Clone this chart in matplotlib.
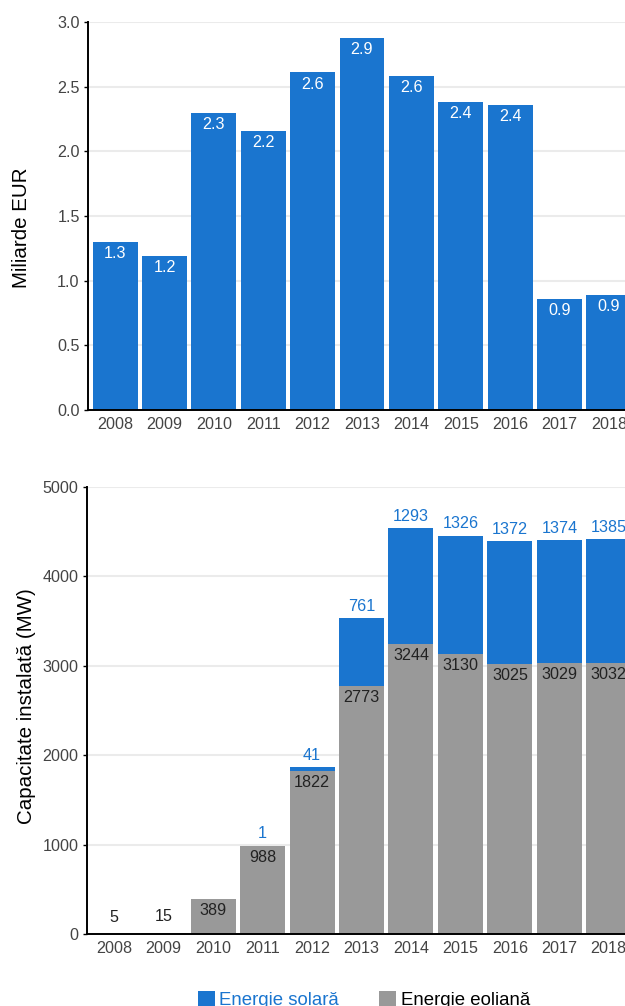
import numpy as np
import matplotlib
matplotlib.use('Agg')
import matplotlib.pyplot as plt
from matplotlib.patches import Patch

plt.rcParams['font.family'] = ['Liberation Sans', 'DejaVu Sans']

# Data
years = ['2008', '2009', '2010', '2011', '2012', '2013', '2014', '2015', '2016', '2017', '2018']
investments = [1.30, 1.19, 2.30, 2.16, 2.61, 2.88, 2.58, 2.38, 2.36, 0.86, 0.89]
wind_mw = [5, 15, 389, 988, 1822, 2773, 3244, 3130, 3025, 3029, 3032]
solar_mw = [0, 0, 0, 1, 41, 761, 1293, 1326, 1372, 1374, 1385]

BLUE = '#1a75cf'
GREY = '#999999'
GRID = '#ebebeb'
TICK = '#444444'

fig = plt.figure(figsize=(6.25, 10.06), dpi=100)
W, H = 625, 1006

def px_axes(left, top, right, bottom):
    return fig.add_axes([left / W, 1 - bottom / H, (right - left) / W, (bottom - top) / H])

def style_axes(ax):
    for s in ['top', 'right']:
        ax.spines[s].set_visible(False)
    for s in ['left', 'bottom']:
        ax.spines[s].set_linewidth(1.4)
        ax.spines[s].set_color('black')
    ax.set_axisbelow(True)
    ax.yaxis.grid(True, color=GRID, linewidth=1.5)
    ax.tick_params(axis='y', length=3, width=1, pad=3, labelsize=11.6, labelcolor=TICK)
    ax.tick_params(axis='x', length=0, pad=5, labelsize=11.6, labelcolor=TICK)

x = np.arange(len(years))
width = 0.91

# Top chart: investments
ax1 = px_axes(88, 22, 636, 410)
bars = ax1.bar(x, investments, width=width, color=BLUE)
ax1.set_xlim(-0.55, len(years) - 0.45)
ax1.set_ylim(0, 3.0)
ax1.set_yticks(np.arange(0, 3.01, 0.5))
ax1.set_yticklabels([f'{v:.1f}' for v in np.arange(0, 3.01, 0.5)])
ax1.set_xticks(x)
ax1.set_xticklabels(years)
style_axes(ax1)
for b, v in zip(bars, investments):
    ax1.annotate(f'{v:.1f}', (b.get_x() + b.get_width() / 2, v), xytext=(0, -8.4),
                 textcoords='offset points', ha='center', va='center',
                 color='white', fontsize=11.6)
ax1.set_ylabel('Miliarde EUR', fontsize=14.8, color='black')
ax1.yaxis.label.set_va('center')
ax1.yaxis.set_label_coords(-0.121, 0.47)

# Bottom chart: installed capacity
ax2 = px_axes(87, 487, 636, 934)
wb = ax2.bar(x, wind_mw, width=width, color=GREY)
sb = ax2.bar(x, solar_mw, width=width, bottom=wind_mw, color=BLUE)
ax2.set_xlim(-0.55, len(years) - 0.45)
ax2.set_ylim(0, 5000)
ax2.set_yticks(np.arange(0, 5001, 1000))
ax2.set_xticks(x)
ax2.set_xticklabels(years)
style_axes(ax2)
for i, (w, s) in enumerate(zip(wind_mw, solar_mw)):
    if w < 200:
        ax2.annotate(str(w), (x[i], w), xytext=(0, 11.5), textcoords='offset points',
                     ha='center', va='center', color='#222222', fontsize=11.6)
    else:
        ax2.annotate(str(w), (x[i], w), xytext=(0, -8.4), textcoords='offset points',
                     ha='center', va='center', color='#222222', fontsize=11.6)
    if s > 0:
        ax2.annotate(str(s), (x[i], w + s), xytext=(0, 8.5), textcoords='offset points',
                     ha='center', va='center', color=BLUE, fontsize=11.6)
ax2.set_ylabel('Capacitate instalată (MW)', fontsize=14.8, color='black')
ax2.yaxis.label.set_va('center')
ax2.yaxis.set_label_coords(-0.11, 0.51)

handles = [Patch(facecolor=BLUE, edgecolor='none'), Patch(facecolor=GREY, edgecolor='none')]
leg = fig.legend(handles, ['Energie solară', 'Energie eoliană'], loc='center',
                 bbox_to_anchor=(364 / W, 1 - 1000 / H), ncol=2, frameon=False,
                 fontsize=13.4, handlelength=0.92, handleheight=0.92,
                 handletextpad=0.25, columnspacing=2.15, borderpad=0)
leg.get_texts()[0].set_color(BLUE)
leg.get_texts()[1].set_color('black')

fig.savefig('out.png', dpi=100)
